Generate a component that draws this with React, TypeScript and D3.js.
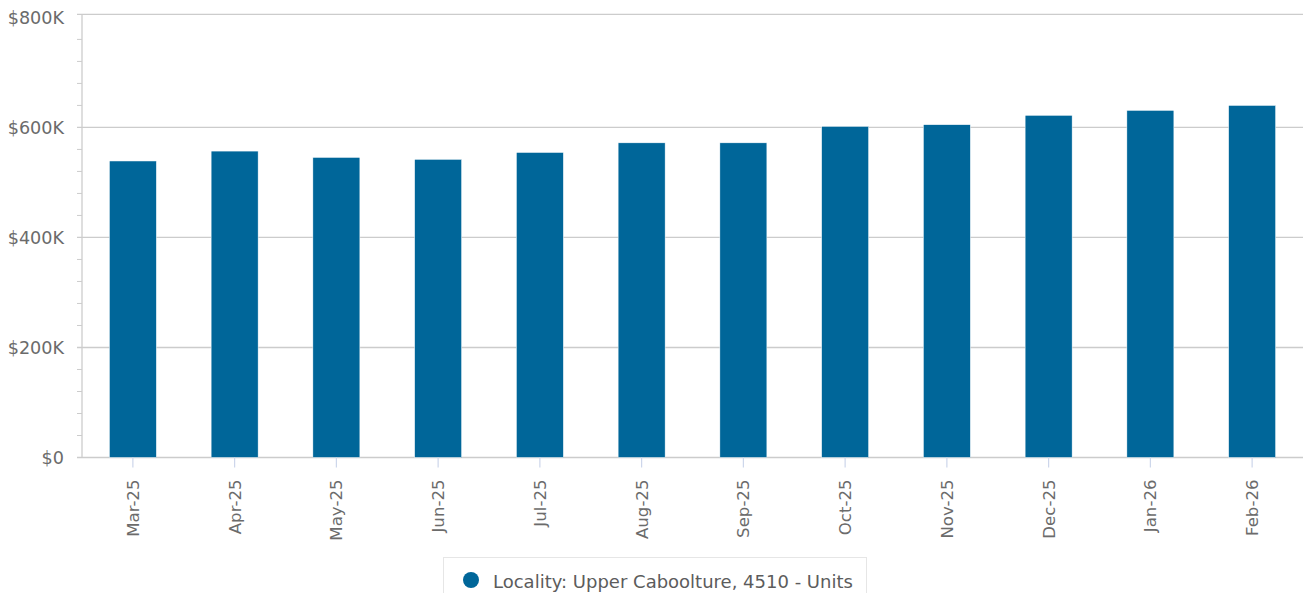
import React from "react";
import * as d3 from "d3";

const categories = ["Mar-25","Apr-25","May-25","Jun-25","Jul-25","Aug-25","Sep-25","Oct-25","Nov-25","Dec-25","Jan-26","Feb-26"];
const values = [539000, 557000, 545500, 542000, 554500, 572000, 572000, 602000, 605000, 622000, 631000, 640000];
const yTicks = [0, 200000, 400000, 600000, 800000];
const seriesName = "Locality: Upper Caboolture, 4510 - Units";

const W = 1306, H = 593;
const M = { left: 82, right: 1303, top: 17.4, bottom: 457.5 };
const BAR = "#006699";
const FONT = "'DejaVu Sans', Verdana, sans-serif";

export default function App() {
  const x = d3.scaleBand<string>().domain(categories).range([M.left, M.right]).paddingInner(0.538).paddingOuter(0.269);
  const y = d3.scaleLinear().domain([0, 800000]).range([M.bottom, M.top]);
  const minor = d3.range(0, 800001, 40000).filter(v => v % 200000 !== 0);
  const fmt = (v: number) => v === 0 ? "$0" : `$${d3.format("d")(v / 1000)}K`;
  return (
    <svg width={W} height={H} style={{ position: "absolute", left: 0, top: 0, background: "#fff" }} fontFamily={FONT}>
      {yTicks.map(t => {
        const yy = t === 800000 ? 14.3 : y(t);
        return (
          <g key={t}>
            <line x1={77} x2={M.right} y1={yy} y2={yy} stroke="#cccccc" strokeWidth={1.3} />
            <text x={64} y={y(t)} dy="0.36em" textAnchor="end" fontSize={17.6} fill="#6b6b6b">{fmt(t)}</text>
          </g>
        );
      })}
      {minor.map(t => (
        <line key={t} x1={77} x2={82} y1={y(t)} y2={y(t)} stroke="#cccccc" strokeWidth={1} />
      ))}
      <line x1={M.left} x2={M.left} y1={14} y2={M.bottom} stroke="#cccccc" strokeWidth={1.3} />
      {categories.map((c, i) => (
        <rect key={c} x={x(c)!} width={x.bandwidth()} y={y(values[i])} height={y(0) - y(values[i])} fill={BAR} stroke="#ffffff" strokeWidth={0.5} />
      ))}
      {categories.map(c => {
        const cx = x(c)! + x.bandwidth() / 2;
        return (
          <g key={c}>
            <line x1={cx} x2={cx} y1={M.bottom} y2={M.bottom + 10} stroke="#ccd6eb" strokeWidth={1.2} />
            <text transform={`translate(${cx + 6},${M.bottom + 22}) rotate(-90)`} textAnchor="end" fontSize={16.6} fill="#6b6b6b">{c}</text>
          </g>
        );
      })}
      <rect x={443.5} y={557.5} width={423} height={50} fill="#ffffff" stroke="#e6e6e6" strokeWidth={1} />
      <circle cx={471} cy={580} r={8} fill={BAR} />
      <text x={493} y={587.5} fontSize={18} fill="#5c5c5c">{seriesName}</text>
    </svg>
  );
}
